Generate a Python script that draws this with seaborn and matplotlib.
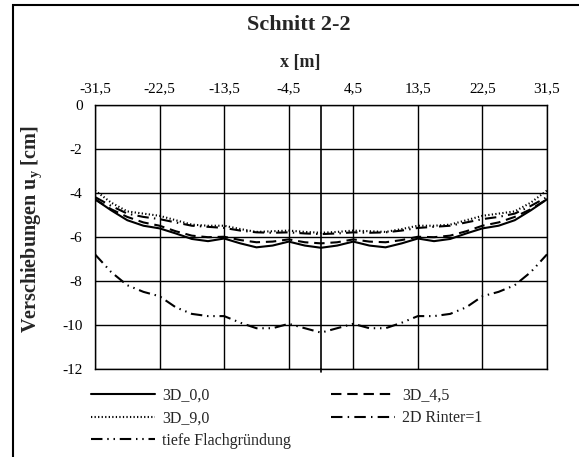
import numpy as np
import pandas as pd
import matplotlib
matplotlib.use("Agg")
import matplotlib.pyplot as plt
import seaborn as sns
from matplotlib.patches import Rectangle

# ---- data ----
x_left = [-31.5, -29.25, -27.0, -24.75, -22.5, -20.25, -18.0, -15.75,
          -13.5, -11.25, -9.0, -6.75, -4.5, -2.25, 0.0]
x_vals = x_left + [-v for v in x_left[-2::-1]]

d3_00_left = [-4.3, -4.8, -5.25, -5.5, -5.62, -5.85, -6.1, -6.2,
              -6.08, -6.3, -6.48, -6.4, -6.22, -6.4, -6.5]
d3_45_left = [-4.3, -4.75, -5.1, -5.35, -5.5, -5.75, -5.95, -6.02,
              -6.0, -6.15, -6.25, -6.22, -6.12, -6.25, -6.3]
d3_90_left = [-3.9, -4.45, -4.85, -4.95, -5.05, -5.25, -5.45, -5.5,
              -5.5, -5.65, -5.78, -5.75, -5.72, -5.78, -5.82]
d2_left = [-4.2, -4.6, -4.95, -5.1, -5.2, -5.35, -5.5, -5.55,
           -5.6, -5.72, -5.8, -5.82, -5.8, -5.85, -5.88]
tief_left = [-6.8, -7.6, -8.2, -8.5, -8.7, -9.2, -9.5, -9.6,
             -9.6, -9.9, -10.15, -10.15, -9.95, -10.15, -10.35]

def mirror(v):
    return v + v[-2::-1]

series_names = ["3D_0,0", "3D_4,5", "3D_9,0", "2D Rinter=1", "tiefe Flachgründung"]
series_vals = [mirror(d3_00_left), mirror(d3_45_left), mirror(d3_90_left),
               mirror(d2_left), mirror(tief_left)]

x_ticks = [-31.5, -22.5, -13.5, -4.5, 4.5, 13.5, 22.5, 31.5]
x_ticklabels = ["-31,5", "-22,5", "-13,5", "-4,5", "4,5", "13,5", "22,5", "31,5"]
y_ticks = [0, -2, -4, -6, -8, -10, -12]
y_ticklabels = ["0", "-2", "-4", "-6", "-8", "-10", "-12"]

# ---- style ----
sns.set_theme(style="white")
plt.rcParams["font.family"] = ["Liberation Serif", "DejaVu Serif"]
plt.rcParams["mathtext.fontset"] = "custom"
plt.rcParams["mathtext.rm"] = "Liberation Serif"
plt.rcParams["mathtext.bf"] = "Liberation Serif:bold"
plt.rcParams["mathtext.it"] = "Liberation Serif:italic"

W, H = 579, 457
fig = plt.figure(figsize=(W / 100, H / 100), dpi=100)
fig.patch.set_facecolor("white")

L, R, T, B = 95, 547, 104.5, 369
ax = fig.add_axes([L / W, 1 - B / H, (R - L) / W, (B - T) / H])

styles = ["-", (0, (5, 2.8)), (0, (0.6, 1.1)), (0, (5.5, 2.5, 0.7, 2.5)),
          (0, (5.5, 2.3, 0.7, 2.3, 0.7, 2.3))]

for name, vals, ls in zip(series_names, series_vals, styles):
    sns.lineplot(x=x_vals, y=vals, ax=ax, color="black", linewidth=1.5,
                 linestyle=ls, label=name, sort=False, estimator=None)

ax.set_xlim(-31.5, 31.5)
ax.set_ylim(-12, 0)
ax.set_xticks(x_ticks)
ax.set_xticklabels(x_ticklabels)
ax.set_yticks(y_ticks)
ax.set_yticklabels(y_ticklabels)
ax.xaxis.tick_top()
ax.tick_params(axis="both", length=0, labelsize=11, colors="black")
ax.tick_params(axis="x", pad=7)
ax.tick_params(axis="y", pad=9)
ax.grid(True, color="black", linewidth=1.0)
for s in ax.spines.values():
    s.set_color("black")
    s.set_linewidth(1.0)
ax.axvline(0, color="black", linewidth=1.2, zorder=1)
ax.plot([0, 0], [-12, -12.15], color="black", lw=1.2, clip_on=False)
ax.set_xlabel("")
ax.set_ylabel("")

fig.text(299 / W, 1 - 25 / H, "Schnitt 2-2", ha="center", va="center",
         fontsize=16, fontweight="bold")
fig.text(300 / W, 1 - 62 / H, "x [m]", ha="center", va="center",
         fontsize=13, fontweight="bold")
fig.text(32 / W, 1 - 229 / H, r"Verschiebungen u$_\mathbf{y}$ [cm]", ha="center",
         va="center", rotation=90, fontsize=14.5, fontweight="bold")

handles, labels = ax.get_legend_handles_labels()
order = [0, 2, 4, 1, 3]
leg = fig.legend([handles[i] for i in order], [labels[i] for i in order],
                 loc="upper left", bbox_to_anchor=(91 / W, 1 - 388 / H), ncol=2,
                 frameon=False, fontsize=11.5, handlelength=4.0, columnspacing=2.5,
                 handletextpad=0.45, labelspacing=0.4, borderpad=0, borderaxespad=0)
if ax.get_legend() is not None:
    ax.get_legend().remove()

fig.add_artist(Rectangle((12.5 / W, -0.1), 2, 1 - 4.5 / H + 0.1, transform=fig.transFigure,
                         fill=False, edgecolor="black", linewidth=1.5))

fig.savefig("out.png", dpi=100, facecolor="white")
